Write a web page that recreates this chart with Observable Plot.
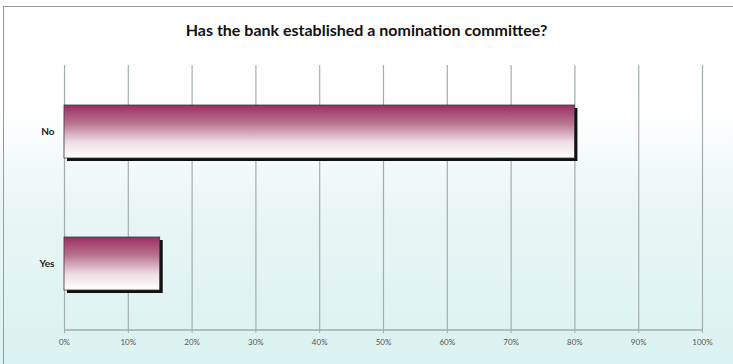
<!DOCTYPE html>
<html>
<head>
<meta charset="utf-8">
<script src="https://cdn.jsdelivr.net/npm/d3@7"></script>
<script src="https://cdn.jsdelivr.net/npm/@observablehq/plot@0.6"></script>
<style>
  html, body { margin: 0; padding: 0; background: #ffffff; }
  #frame {
    position: relative; width: 733px; height: 364px; overflow: hidden;
    background: linear-gradient(to bottom, #ffffff 0%, #ffffff 30%, #e8f6f5 58%, #daf2f1 100%);
  }
  #border {
    position: absolute; left: 3px; top: 6px; width: 740px; height: 400px;
    border: 1px solid #9a9a9a; box-sizing: border-box; pointer-events: none;
  }
  #title {
    position: absolute; left: 0; width: 733px; top: 20px; text-align: center;
    font-family: "Lato", "Open Sans", sans-serif; font-weight: bold; font-size: 16px; color: #111;
  }
  #chart { position: absolute; left: 0; top: 0; }
</style>
</head>
<body>
<div id="frame">
  <div id="title">Has the bank established a nomination committee?</div>
  <div id="chart"></div>
  <div id="border"></div>
</div>
<script>
const categories = ["No", "Yes"];
const values = [80, 15];
const xTicks = [0, 10, 20, 30, 40, 50, 60, 70, 80, 90, 100];

const data = categories.map((c, i) => ({category: c, value: values[i]}));

const chart = Plot.plot({
  width: 733,
  height: 364,
  marginTop: 65,
  marginBottom: 35,
  marginLeft: 64,
  marginRight: 31,
  style: {background: "transparent", fontFamily: "Lato, sans-serif"},
  x: {domain: [0, 100], ticks: xTicks, label: null},
  y: {domain: categories, paddingInner: 0.6, paddingOuter: 0.3, label: null},
  marks: [
    () => {
      const ns = "http://www.w3.org/2000/svg";
      const defs = document.createElementNS(ns, "defs");
      defs.innerHTML = `<linearGradient id="barGrad" x1="0" y1="0" x2="0" y2="1">
        <stop offset="0%" stop-color="#9c2d62"/>
        <stop offset="35%" stop-color="#b9758f"/>
        <stop offset="70%" stop-color="#eedde4"/>
        <stop offset="100%" stop-color="#ffffff"/>
      </linearGradient>`;
      return defs;
    },
    Plot.gridX(xTicks, {stroke: "#a3adad", strokeOpacity: 1, strokeWidth: 1.2}),
    Plot.ruleY(["Yes"], {x1: 0, x2: 100, dy: 66, stroke: "#a3adad", strokeWidth: 1.5}),
    Plot.axisX(xTicks, {tickFormat: d => d + "%", tickSize: 4, tickPadding: 6, stroke: "#a3adad", fill: "#555", fontSize: 8, label: null}),
    Plot.axisY({tickSize: 0, tickPadding: 10, fill: "#222", fontSize: 10, fontWeight: "bold", label: null}),
    Plot.barX(data, {x: "value", y: "category", fill: "#111", dx: 3, dy: 3}),
    Plot.barX(data, {x: "value", y: "category", fill: "url(#barGrad)", stroke: "#3a3a3a", strokeWidth: 0.8})
  ]
});
document.getElementById("chart").appendChild(chart);
</script>
</body>
</html>
